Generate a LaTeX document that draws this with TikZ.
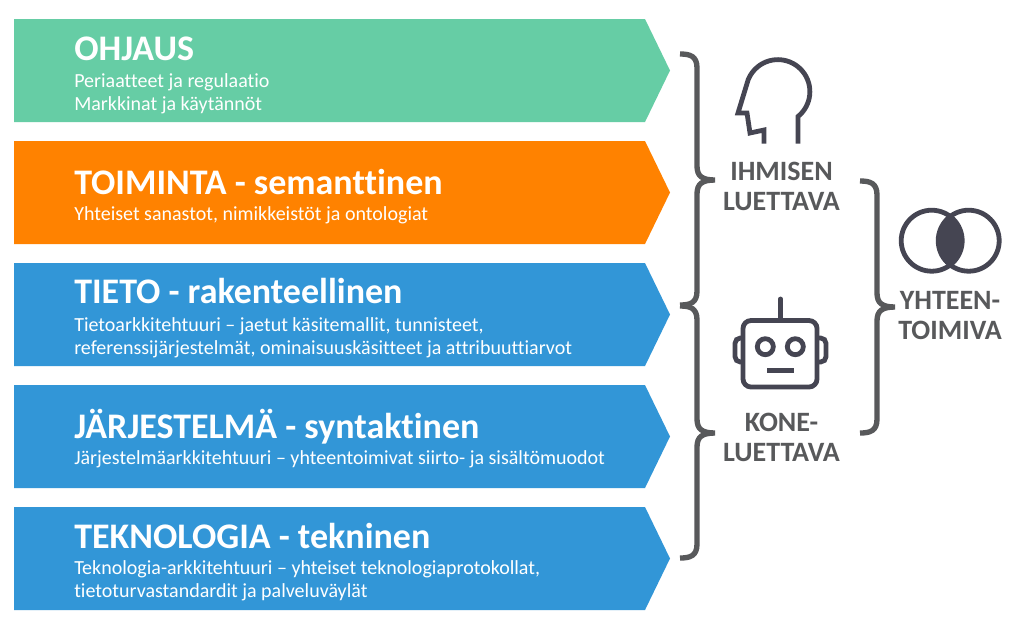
\documentclass[tikz,border=0pt]{standalone}
\usepackage{fontspec}
\setmainfont{Carlito}[Ligatures=NoCommon]
\definecolor{ohjausgreen}{RGB}{102,205,165}
\definecolor{toimintaorange}{RGB}{255,130,0}
\definecolor{tietoblue}{RGB}{50,150,215}
\definecolor{bracegray}{RGB}{88,89,91}
\definecolor{icondark}{RGB}{69,69,82}
\begin{document}
\begin{tikzpicture}[x=0.75pt,y=-0.75pt]
	\tikzstyle{headline}=[anchor=base west,inner sep=0pt,text=white,font=\fontsize{27}{28}\selectfont\bfseries]
	\tikzstyle{subline}=[anchor=base west,inner sep=0pt,text=white,font=\fontsize{15}{18}\selectfont]
	\tikzstyle{sidelabel}=[anchor=base,inner sep=0pt,text=bracegray,font=\fontsize{21}{22}\selectfont\bfseries]
	\tikzstyle{brace}=[draw=bracegray,line width=4pt,line join=miter]
	\tikzstyle{icon}=[draw=icondark,line width=3.6pt]
	\useasboundingbox[fill=white] (0,0) rectangle (1024,622);

	%%%%%%%%%%%%%%%%%%%%%%%%%%%%%%%%%%%%%%%%%%%%
	%%% DRAW THE ARROW BANDS
	%%%%%%%%%%%%%%%%%%%%%%%%%%%%%%%%%%%%%%%%%%%%
	\foreach \y / \col in {19/ohjausgreen,141/toimintaorange,263/tietoblue,385/tietoblue,507/tietoblue}
		\fill[\col] (14,\y) -- (645,\y) -- (670,\y+51.5) -- (645,\y+103) -- (14,\y+103) -- cycle;

	%%%%%%%%%%%%%%%%%%%%%%%%%%%%%%%%%%%%%%%%%%%%
	%%% DRAW THE TEXTS
	%%%%%%%%%%%%%%%%%%%%%%%%%%%%%%%%%%%%%%%%%%%%
	\foreach \name / \y / \txt in {1/60/{OHJAUS},2/194/{TOIMINTA - semanttinen},3/303.5/{TIETO - rakenteellinen},4/438/{JÄRJESTELMÄ - syntaktinen},5/548/{TEKNOLOGIA - tekninen}}
		\node[headline] (H-\name) at (74,\y) {\txt};

	\foreach \name / \y / \txt in {1/87/{Periaatteet ja regulaatio},2/110/{Markkinat ja käytännöt},3/220/{Yhteiset sanastot, nimikkeistöt ja ontologiat},4/331/{Tietoarkkitehtuuri – jaetut käsitemallit, tunnisteet,},5/354/{referenssijärjestelmät, ominaisuuskäsitteet ja attribuuttiarvot},6/464/{Järjestelmäarkkitehtuuri – yhteentoimivat siirto- ja sisältömuodot},7/574/{Teknologia-arkkitehtuuri – yhteiset teknologiaprotokollat,},8/597/{tietoturvastandardit ja palveluväylät}}
		\node[subline] (S-\name) at (74,\y) {\txt};

	\node[sidelabel] (ihmisen) at (781.5,180) {IHMISEN};
	\node[sidelabel] (luettava1) at (781.5,210.5) {LUETTAVA};
	\node[sidelabel] (kone) at (781.5,431) {KONE-};
	\node[sidelabel] (luettava2) at (781.5,461) {LUETTAVA};
	\node[sidelabel] (yhteen) at (950,309) {YHTEEN-};
	\node[sidelabel] (toimiva) at (950,339) {TOIMIVA};

	%%%%%%%%%%%%%%%%%%%%%%%%%%%%%%%%%%%%%%%%%%%%
	%%% DRAW THE BRACES
	%%%%%%%%%%%%%%%%%%%%%%%%%%%%%%%%%%%%%%%%%%%%
	\foreach \x / \top / \mid / \bot in {680/54/180/305,680/306/433/558,860/181/307/433}
		\draw[brace] (\x,\top) .. controls (\x+10,\top) and (\x+17,\top+2) .. (\x+17,\top+14)
			-- (\x+17,\mid-14) .. controls (\x+17,\mid-4) and (\x+22,\mid) .. (\x+35,\mid)
			.. controls (\x+22,\mid) and (\x+17,\mid+4) .. (\x+17,\mid+14)
			-- (\x+17,\bot-14) .. controls (\x+17,\bot-2) and (\x+10,\bot) .. (\x,\bot);

	%%%%%%%%%%%%%%%%%%%%%%%%%%%%%%%%%%%%%%%%%%%%
	%%% DRAW THE ICONS
	%%%%%%%%%%%%%%%%%%%%%%%%%%%%%%%%%%%%%%%%%%%%
	% head
	\draw[icon] (798,143.5) -- (798,116.5) arc[start angle=51,end angle=-158,radius=32]
		-- (738,113) -- (747,113) -- (750,133) -- (764,130) -- (764,143.5);

	% robot
	\draw[icon,line cap=round] (780.7,299) -- (780.7,320);
	\draw[icon,rounded corners=6] (743,320.5) rectangle (817,387);
	\draw[icon,rounded corners=4] (743,338) -- (735,338) -- (735,362) -- (743,362);
	\draw[icon,rounded corners=4] (817,338) -- (826,338) -- (826,362) -- (817,362);
	\foreach \x in {765.3,795.3}
		\draw[icon] (\x,346.7) circle[radius=8];
	\draw[icon] (767,370.7) -- (794,370.7);

	% overlapping circles
	\begin{scope}
		\clip (931.7,240.7) circle[radius=30.5];
		\fill[icondark] (968.7,240.7) circle[radius=30.5];
	\end{scope}
	\draw[icon] (931.7,240.7) circle[radius=30.5];
	\draw[icon] (968.7,240.7) circle[radius=30.5];
\end{tikzpicture}
\end{document}
